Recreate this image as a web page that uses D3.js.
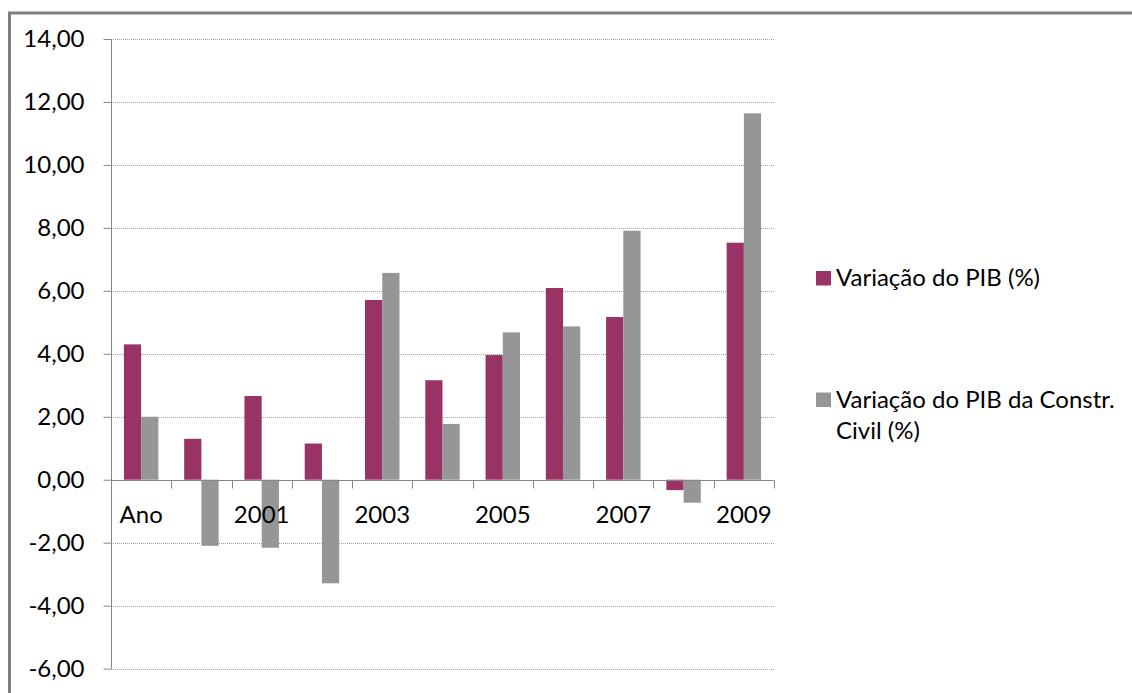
<!DOCTYPE html>
<html>
<head>
<meta charset="utf-8">
<script src="https://cdnjs.cloudflare.com/ajax/libs/d3/7.8.5/d3.min.js"></script>
<style>
  html, body { margin: 0; padding: 0; background: #fff; }
  svg { display: block; }
  text { font-family: Lato, "Open Sans", sans-serif; fill: #000; }
</style>
</head>
<body>
<svg id="chart" width="1132" height="693"></svg>
<script>
// Categories along the x axis (label shown on every other one)
const categories = ["Ano", "2000", "2001", "2002", "2003", "2004", "2005", "2006", "2007", "2008", "2009"];
// GDP change (%)
const pibValues = [4.30, 1.30, 2.66, 1.15, 5.71, 3.16, 3.96, 6.09, 5.17, -0.33, 7.53];
// GDP change for civil construction (%)
const constrValues = [2.00, -2.10, -2.16, -3.29, 6.57, 1.77, 4.68, 4.87, 7.91, -0.73, 11.64];
const seriesNames = ["Variação do PIB (%)", "Variação do PIB da Constr. Civil (%)"];
const yTicks = [-6, -4, -2, 0, 2, 4, 6, 8, 10, 12, 14];

const colors = ["#993366", "#969696"];
const axisColor = "#868686";
const gridColor = "#a0a0a0";
const fontSize = "24px";

const svg = d3.select("#chart");

// outer chart frame
svg.append("rect")
  .attr("x", 9.5).attr("y", 13)
  .attr("width", 1300).attr("height", 900)
  .attr("fill", "none")
  .attr("stroke", "#7f7f7f")
  .attr("stroke-width", 3);

const plot = { left: 111, right: 774, top: 39, bottom: 668.6 };

const x = d3.scaleBand()
  .domain(categories)
  .range([plot.left, plot.right])
  .padding(0);

const xSeries = d3.scaleBand()
  .domain([0, 1])
  .range([0, x.bandwidth()])
  .paddingInner(0)
  .paddingOuter(0.75);

const y = d3.scaleLinear()
  .domain([-6, 14])
  .range([plot.bottom, plot.top]);

const fmt = v => d3.format(".2f")(v).replace(".", ",").replace("−", "-");

// horizontal gridlines
svg.append("g")
  .selectAll("line")
  .data(yTicks.filter(t => t !== 0))
  .join("line")
  .attr("x1", plot.left).attr("x2", plot.right)
  .attr("y1", d => Math.round(y(d)) + 0.5)
  .attr("y2", d => Math.round(y(d)) + 0.5)
  .attr("stroke", gridColor)
  .attr("stroke-width", 1)
  .attr("stroke-dasharray", "1,1");

// bars
const rows = categories.map((c, i) => ({ cat: c, vals: [pibValues[i], constrValues[i]] }));
svg.append("g")
  .selectAll("g")
  .data(rows)
  .join("g")
  .attr("transform", d => `translate(${x(d.cat)},0)`)
  .selectAll("rect")
  .data(d => d.vals.map((v, s) => ({ v, s })))
  .join("rect")
  .attr("x", d => xSeries(d.s))
  .attr("width", xSeries.bandwidth())
  .attr("y", d => y(Math.max(0, d.v)))
  .attr("height", d => Math.abs(y(d.v) - y(0)))
  .attr("fill", d => colors[d.s]);

// y axis
const yAxis = d3.axisLeft(y)
  .tickValues(yTicks)
  .tickSize(8)
  .tickPadding(19)
  .tickFormat(fmt);
const gy = svg.append("g")
  .attr("transform", `translate(${plot.left + 0.5},0)`)
  .call(yAxis);
gy.select(".domain").attr("stroke", axisColor).attr("d", `M0,${plot.top}V${plot.bottom}`);
gy.selectAll(".tick line").attr("stroke", axisColor);
gy.selectAll(".tick text")
  .attr("fill", "#000")
  .style("font-family", "Lato, sans-serif")
  .style("font-size", fontSize);

// category axis on the zero line
const xAxis = d3.axisBottom(x)
  .tickSize(0)
  .tickPadding(25)
  .tickFormat((d, i) => (i % 2 === 0 ? d : ""));
const gx = svg.append("g")
  .attr("transform", `translate(0,${Math.round(y(0)) + 0.5})`)
  .call(xAxis);
gx.select(".domain").attr("stroke", axisColor).attr("d", `M${plot.left},0H${plot.right}`);
gx.selectAll(".tick text")
  .attr("fill", "#000")
  .style("font-family", "Lato, sans-serif")
  .style("font-size", fontSize);

// tick marks at category boundaries
gx.append("g")
  .selectAll("line")
  .data(categories.slice(1).concat(["__end"]))
  .join("line")
  .attr("x1", (d, i) => Math.round(plot.left + (i + 1) * x.bandwidth()) + 0.5)
  .attr("x2", (d, i) => Math.round(plot.left + (i + 1) * x.bandwidth()) + 0.5)
  .attr("y1", 0).attr("y2", 8)
  .attr("stroke", axisColor);

// legend
const legend = svg.append("g");
const legendItems = [
  { lines: ["Variação do PIB (%)"], y: 271 },
  { lines: ["Variação do PIB da Constr.", "Civil (%)"], y: 392.5 }
];
legendItems.forEach((item, s) => {
  legend.append("rect")
    .attr("x", 816).attr("y", item.y)
    .attr("width", 15).attr("height", 14.5)
    .attr("fill", colors[s]);
  const t = legend.append("text")
    .attr("x", 836)
    .attr("y", item.y + 15)
    .style("font-size", fontSize);
  item.lines.forEach((ln, k) => {
    t.append("tspan")
      .attr("x", 836)
      .attr("dy", k === 0 ? 0 : 31)
      .text(ln);
  });
});
</script>
</body>
</html>
